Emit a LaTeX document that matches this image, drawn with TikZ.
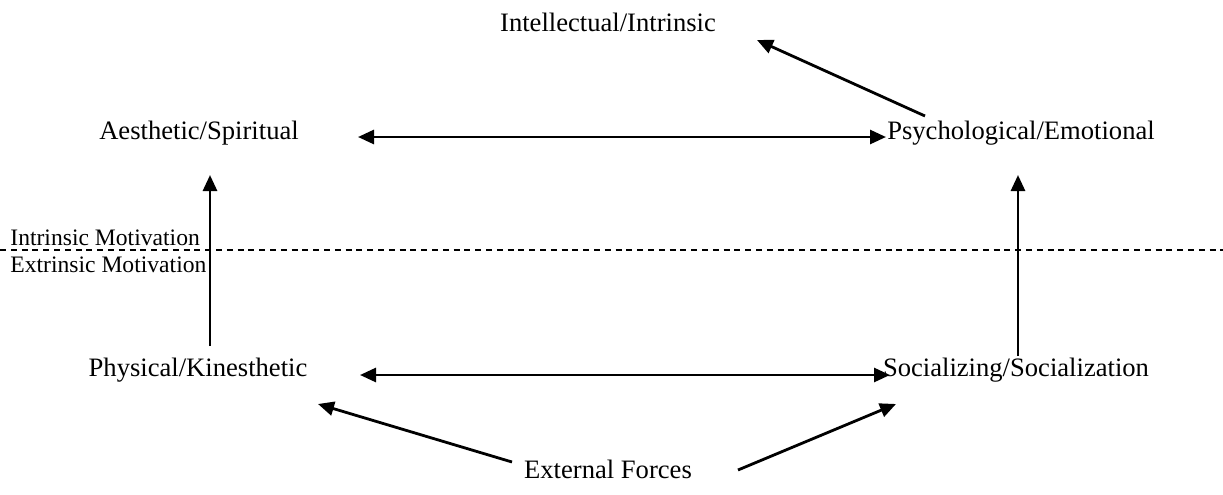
\documentclass[tikz,border=0pt]{standalone}
\usepackage{fontspec}
\setmainfont{Liberation Serif}
\usetikzlibrary{arrows.meta}
\begin{document}
\begin{tikzpicture}[x=0.5pt,y=-0.5pt,
  lbl/.style={inner sep=0pt,font=\fontsize{13.3}{16}\selectfont},
  small/.style={inner sep=0pt,font=\fontsize{11.8}{14}\selectfont},
  arr/.style={line width=1.4pt,-{Triangle[length=8pt,width=7pt]}},
  darr/.style={line width=1.4pt,{Triangle[length=8pt,width=7pt]}-{Triangle[length=8pt,width=7pt]}},
  divider/.style={line width=0.6pt,dash pattern=on 3pt off 2.4pt}]
\useasboundingbox (0,0) rectangle (1223,494);
\node[lbl] (intel) at (608,22) {Intellectual/Intrinsic};
\node[lbl] (aest) at (199,133) {Aesthetic/Spiritual};
\node[lbl] (psych) at (1021,133) {Psychological/Emotional};
\node[lbl] (phys) at (198,370) {Physical/Kinesthetic};
\node[lbl] (soc) at (1016,370) {Socializing/Socialization};
\node[lbl] (ext) at (608,469) {External Forces};
\node[small,anchor=west] (intm) at (10,238) {Intrinsic Motivation};
\node[small,anchor=west] (extm) at (10,265) {Extrinsic Motivation};
\coordinate (dl) at (0,250);
\coordinate (dr) at (1223,250);
\draw[divider] (dl) -- (dr);
% endpoints
\coordinate (aR) at (358,137);
\coordinate (pL) at (886,137);
\coordinate (phR) at (360,375);
\coordinate (sL) at (890,375);
\coordinate (aB) at (210,175);
\coordinate (phT) at (210,346);
\coordinate (pB) at (1018,175);
\coordinate (sT) at (1018,356);
\coordinate (pUL) at (925,116);
\coordinate (iR) at (757,40);
\coordinate (eL) at (512,462);
\coordinate (phBR) at (318,404);
\coordinate (eR) at (738,470);
\coordinate (sBL) at (896,404);
\draw[darr] (aR) -- (pL);
\draw[darr] (phR) -- (sL);
\draw[arr] (phT) -- (aB);
\draw[arr] (sT) -- (pB);
\draw[arr] (pUL) -- (iR);
\draw[arr] (eL) -- (phBR);
\draw[arr] (eR) -- (sBL);
\end{tikzpicture}
\end{document}
